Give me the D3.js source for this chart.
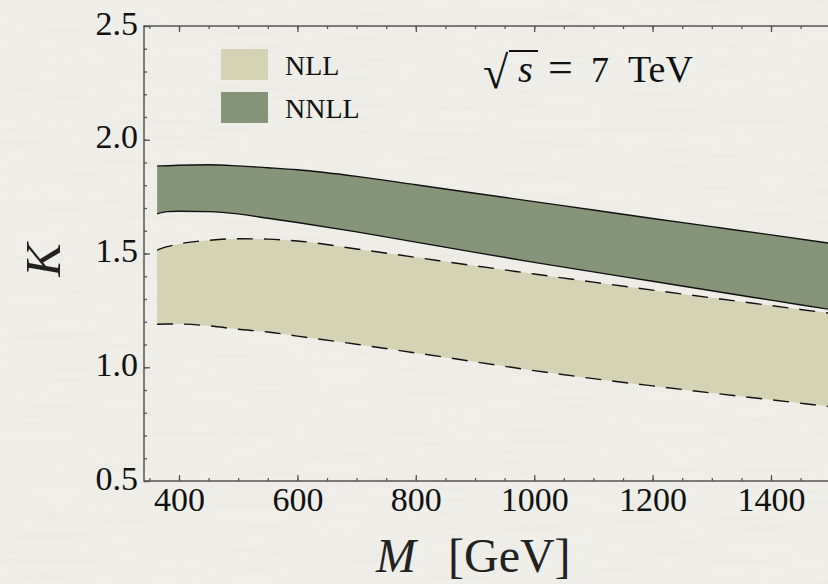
<!DOCTYPE html>
<html>
<head>
<meta charset="utf-8">
<script src="https://cdn.jsdelivr.net/npm/d3@7/dist/d3.min.js"></script>
<style>
  body { margin: 0; background: #eeede8; }
  svg { display: block; }
</style>
</head>
<body>
<div id="chart"></div>
<script>
// invariant mass grid (GeV) and the K-factor bands
const massGrid = [363, 380, 400, 450, 500, 550, 600, 700, 800, 900, 1000, 1100, 1200, 1300, 1400, 1500];
const nllLow   = [1.189, 1.190, 1.190, 1.182, 1.167, 1.155, 1.137, 1.101, 1.063, 1.024, 0.985, 0.950, 0.918, 0.887, 0.857, 0.827];
const nllHigh  = [1.515, 1.530, 1.542, 1.558, 1.565, 1.563, 1.555, 1.520, 1.483, 1.446, 1.410, 1.374, 1.339, 1.305, 1.271, 1.237];
const nnllLow  = [1.674, 1.684, 1.686, 1.684, 1.674, 1.655, 1.636, 1.595, 1.550, 1.505, 1.461, 1.419, 1.378, 1.336, 1.295, 1.254];
const nnllHigh = [1.885, 1.886, 1.888, 1.890, 1.885, 1.877, 1.868, 1.839, 1.802, 1.765, 1.728, 1.691, 1.654, 1.618, 1.582, 1.545];

const xMajorTicks = [400, 600, 800, 1000, 1200, 1400];
const xMinorTicks = d3.range(350, 1501, 50);
const yMajorTicks = [0.5, 1.0, 1.5, 2.0, 2.5];
const yMinorTicks = d3.range(5, 26).map(d => d / 10);
const legendLabels = ['NLL', 'NNLL'];

const W = 828, H = 584;
const serif = '"Liberation Serif", "DejaVu Serif", serif';
const colors = { NLL: '#d4d3b3', NNLL: '#869577' };

const x = d3.scaleLinear().domain([400, 1400]).range([179, 771]);
const y = d3.scaleLinear().domain([0.5, 2.5]).range([481, 26]);

const svg = d3.select('#chart')
  .append('svg')
  .attr('width', W)
  .attr('height', H);

// paper texture
const defs = svg.append('defs');
const filt = defs.append('filter').attr('id', 'paper')
  .attr('x', 0).attr('y', 0).attr('width', 1).attr('height', 1);
filt.append('feTurbulence')
  .attr('type', 'fractalNoise')
  .attr('baseFrequency', '0.01 0.22')
  .attr('numOctaves', 3)
  .attr('seed', 7);
filt.append('feColorMatrix')
  .attr('type', 'matrix')
  .attr('values', '0 0 0 0 0.6  0 0 0 0 0.6  0 0 0 0 0.57  0.2 0 0 0 -0.075');

svg.append('rect').attr('width', W).attr('height', H).attr('fill', '#efeee9');
svg.append('rect').attr('width', W).attr('height', H).attr('filter', 'url(#paper)');

function band(lo, hi) {
  return massGrid.map((m, i) => ({ m: m, lo: lo[i], hi: hi[i] }));
}
const nllBand = band(nllLow, nllHigh);
const nnllBand = band(nnllLow, nnllHigh);

const area = d3.area()
  .x(d => x(d.m))
  .y0(d => y(d.lo))
  .y1(d => y(d.hi))
  .curve(d3.curveMonotoneX);
const lineLo = d3.line().x(d => x(d.m)).y(d => y(d.lo)).curve(d3.curveMonotoneX);
const lineHi = d3.line().x(d => x(d.m)).y(d => y(d.hi)).curve(d3.curveMonotoneX);

// NLL band (dashed edges)
svg.append('path').datum(nllBand).attr('d', area).attr('fill', colors.NLL);
[lineLo, lineHi].forEach(gen => {
  svg.append('path').datum(nllBand)
    .attr('d', gen)
    .attr('fill', 'none')
    .attr('stroke', '#111')
    .attr('stroke-width', 1.4)
    .attr('stroke-dasharray', '16,11');
});

// NNLL band (solid edges)
svg.append('path').datum(nnllBand).attr('d', area).attr('fill', colors.NNLL);
[lineLo, lineHi].forEach(gen => {
  svg.append('path').datum(nnllBand)
    .attr('d', gen)
    .attr('fill', 'none')
    .attr('stroke', '#111')
    .attr('stroke-width', 1.4);
});

// axes, ticks pointing into the frame
const axisColor = '#555';
function styleAxis(g) {
  g.select('.domain').remove();
  g.selectAll('line').attr('stroke', axisColor).attr('stroke-width', 1.3);
  g.selectAll('text')
    .attr('fill', '#111')
    .style('font-family', serif)
    .style('font-size', '34px');
}

svg.append('g').attr('transform', 'translate(0,481)')
  .call(d3.axisBottom(x).tickValues(xMinorTicks).tickSize(-3).tickFormat(''))
  .call(styleAxis);
svg.append('g').attr('transform', 'translate(0,481)')
  .call(d3.axisBottom(x).tickValues(xMajorTicks).tickSize(-6).tickPadding(6).tickFormat(d3.format('d')))
  .call(styleAxis);

svg.append('g').attr('transform', 'translate(0,26)')
  .call(d3.axisTop(x).tickValues(xMinorTicks).tickSize(-3).tickFormat(''))
  .call(styleAxis);
svg.append('g').attr('transform', 'translate(0,26)')
  .call(d3.axisTop(x).tickValues(xMajorTicks).tickSize(-6).tickFormat(''))
  .call(styleAxis);

svg.append('g').attr('transform', 'translate(144,0)')
  .call(d3.axisLeft(y).tickValues(yMinorTicks).tickSize(-3).tickFormat(''))
  .call(styleAxis);
svg.append('g').attr('transform', 'translate(144,0)')
  .call(d3.axisLeft(y).tickValues(yMajorTicks).tickSize(-6).tickPadding(6).tickFormat(d3.format('.1f')))
  .call(styleAxis)
  .selectAll('text').attr('dy', '0.24em');

// frame lines
svg.append('path')
  .attr('d', `M${x(1500)},26H144V481H${x(1500)}`)
  .attr('fill', 'none')
  .attr('stroke', axisColor)
  .attr('stroke-width', 1.5);

// legend
const legend = svg.append('g').selectAll('g')
  .data(legendLabels)
  .enter()
  .append('g')
  .attr('transform', (d, i) => `translate(221,${49 + i * 43})`);
legend.append('rect')
  .attr('width', 47)
  .attr('height', 31)
  .attr('fill', d => colors[d]);
legend.append('text')
  .attr('x', 64)
  .attr('y', 26)
  .attr('fill', '#111')
  .style('font-family', serif)
  .style('font-size', '28px')
  .text(d => d);

// energy label
const lab = svg.append('g').attr('fill', '#111').style('font-family', serif);
lab.append('text').attr('x', 483).attr('y', 88).style('font-size', '46px').text('\u221A');
lab.append('text').attr('x', 518).attr('y', 82).style('font-size', '38px').style('font-style', 'italic').text('s');
lab.append('line').attr('x1', 509).attr('x2', 538).attr('y1', 51).attr('y2', 51)
  .attr('stroke', '#111').attr('stroke-width', 2);
lab.append('text').attr('x', 548).attr('y', 82).style('font-size', '44px').text('=');
lab.append('text').attr('x', 591).attr('y', 82).style('font-size', '36px').text('7');
lab.append('text').attr('x', 628).attr('y', 82).style('font-size', '38px').text('TeV');

// axis titles
const xt = svg.append('text')
  .attr('x', 376)
  .attr('y', 572)
  .attr('fill', '#222')
  .style('font-family', serif)
  .style('font-size', '48px');
xt.append('tspan').style('font-style', 'italic').text('M');
xt.append('tspan').attr('x', 448).text('[GeV]');

svg.append('text')
  .attr('transform', 'translate(60,260) rotate(-90)')
  .attr('text-anchor', 'middle')
  .attr('fill', '#222')
  .style('font-family', serif)
  .style('font-size', '50px')
  .style('font-style', 'italic')
  .text('K');
</script>
</body>
</html>
